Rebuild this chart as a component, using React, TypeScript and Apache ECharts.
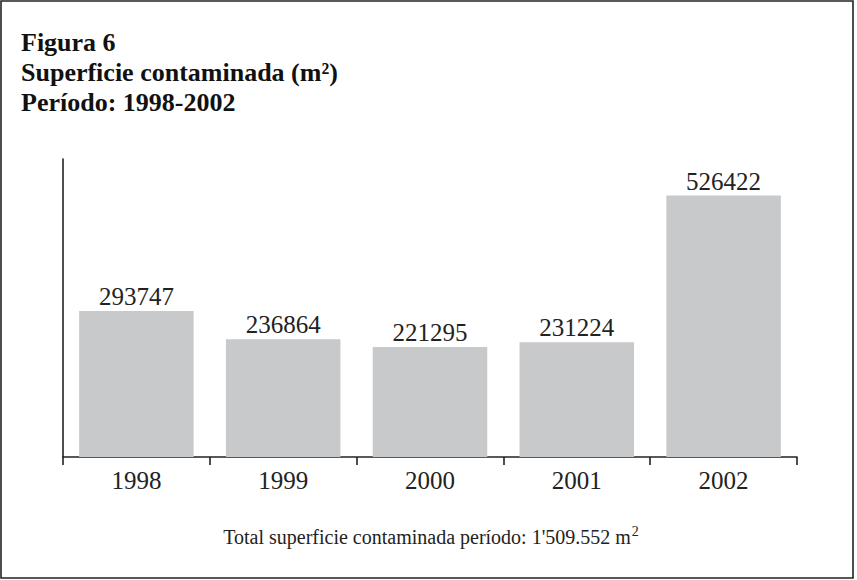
import React, { useEffect, useRef } from "react";
import * as echarts from "echarts";

const years = ["1998", "1999", "2000", "2001", "2002"];
const surface = [293747, 236864, 221295, 231224, 526422];
const titleLines = ["Figura 6", "Superficie contaminada (m²)", "Período: 1998-2002"];
const footnote = "Total superficie contaminada período: 1'509.552 m";

const SERIF = "Liberation Serif";

export default function App() {
  const ref = useRef<HTMLDivElement>(null);
  useEffect(() => {
    document.body.style.margin = "0";
    const chart = echarts.init(ref.current!, null, { renderer: "svg" });
    chart.setOption({
      animation: false,
      backgroundColor: "#ffffff",
      textStyle: { fontFamily: SERIF },
      title: {
        text: titleLines.join("\n"),
        left: 16,
        top: 22,
        textStyle: {
          fontFamily: SERIF,
          fontWeight: "bold",
          fontSize: 26,
          lineHeight: 30,
          color: "#111111",
        },
      },
      grid: { left: 63, right: 60, top: 159, bottom: 123 },
      xAxis: {
        type: "category",
        data: years,
        axisLine: { show: true, lineStyle: { color: "#222222", width: 1.6 } },
        axisTick: { show: true, length: 8, lineStyle: { color: "#222222", width: 1.6 } },
        axisLabel: {
          margin: 11,
          fontFamily: SERIF,
          fontSize: 25,
          color: "#222222",
        },
      },
      yAxis: {
        type: "value",
        min: 0,
        max: 600000,
        axisLine: { show: true, lineStyle: { color: "#222222", width: 1.6 } },
        axisTick: { show: false },
        axisLabel: { show: false },
        splitLine: { show: false },
      },
      series: [
        {
          type: "bar",
          data: surface,
          barWidth: "78%",
          itemStyle: { color: "#c8c9cb" },
          label: {
            show: true,
            position: "top",
            distance: 2,
            fontFamily: SERIF,
            fontSize: 25,
            color: "#222222",
          },
        },
      ],
      graphic: [
        {
          type: "rect",
          shape: { x: 1, y: 1, width: 852, height: 577 },
          style: { fill: "none", stroke: "#222222", lineWidth: 1.6 },
          silent: true,
        },
        {
          type: "text",
          x: 431,
          y: 537,
          style: {
            text: footnote + "{sup|2}",
            fontFamily: SERIF,
            fontSize: 20,
            fill: "#222222",
            align: "center",
            verticalAlign: "middle",
            rich: {
              sup: { fontSize: 14, fontFamily: SERIF, fill: "#222222", padding: [0, 0, 12, 1] },
            },
          },
        },
      ],
    });
    return () => chart.dispose();
  }, []);
  return <div ref={ref} style={{ width: 857, height: 580 }} />;
}
